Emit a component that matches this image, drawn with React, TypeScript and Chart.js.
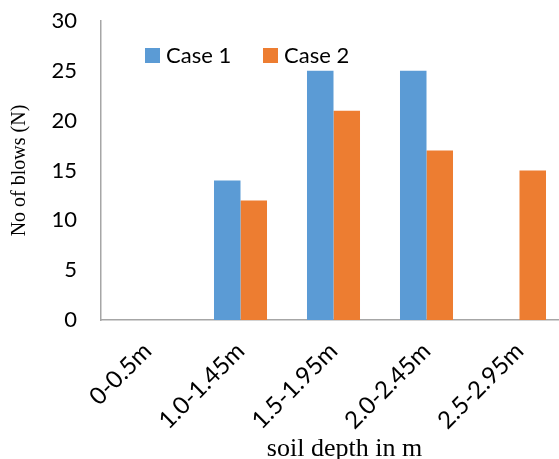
import React, { useEffect, useRef } from "react";
import { Chart, registerables } from "chart.js";

Chart.register(...registerables);

const categories = ["0-0.5m", "1.0-1.45m", "1.5-1.95m", "2.0-2.45m", "2.5-2.95m"];
const case1 = [0, 14, 25, 25, 0];
const case2 = [0, 12, 21, 17, 15];
const seriesNames = ["Case 1", "Case 2"];
const colors = ["#5B9BD5", "#ED7D31"];
const xTitle = "soil depth in m";
const yTitle = "No of blows (N)";

const SANS = "Lato, 'Open Sans', sans-serif";
const SERIF = "'Liberation Serif', 'DejaVu Serif', serif";

const overlayPlugin = {
  id: "overlay",
  afterDraw(chart: any) {
    const ctx = chart.ctx;
    const items = [
      { x: 145, text: seriesNames[0], color: colors[0] },
      { x: 263, text: seriesNames[1], color: colors[1] },
    ];
    ctx.save();
    ctx.font = `22px ${SANS}`;
    ctx.textBaseline = "middle";
    ctx.textAlign = "left";
    for (const it of items) {
      ctx.fillStyle = it.color;
      ctx.fillRect(it.x, 48, 15, 15);
      ctx.fillStyle = "#000";
      ctx.fillText(it.text, it.x + 21, 55.5);
    }
    // x axis title
    const ca = chart.chartArea;
    ctx.font = `26px ${SERIF}`;
    ctx.textAlign = "center";
    ctx.textBaseline = "alphabetic";
    ctx.fillText(xTitle, (ca.left + ca.right) / 2 + 11, 456);
    ctx.restore();
  },
};

export default function App() {
  const ref = useRef<HTMLCanvasElement>(null);
  useEffect(() => {
    if (!ref.current) return;
    const chart = new Chart(ref.current, {
      type: "bar",
      data: {
        labels: categories,
        datasets: [
          { label: seriesNames[0], data: case1, backgroundColor: colors[0], categoryPercentage: 0.57, barPercentage: 1 },
          { label: seriesNames[1], data: case2, backgroundColor: colors[1], categoryPercentage: 0.57, barPercentage: 1 },
        ],
      },
      options: {
        responsive: false,
        animation: false,
        devicePixelRatio: 1,
        layout: { padding: { top: 21, right: 0, left: 0, bottom: 0 } },
        plugins: { legend: { display: false }, tooltip: { enabled: false } },
        scales: {
          x: {
            grid: { display: false, drawTicks: false },
            border: { display: true, color: "#A6A6A6", width: 1.5 },
            ticks: {
              color: "#000",
              font: { family: SANS, size: 24 },
              maxRotation: 45,
              minRotation: 45,
              autoSkip: false,
              padding: 17,
            },
            afterFit(scale: any) {
              scale.height = 139;
            },
          },
          y: {
            min: 0,
            max: 30,
            grid: { display: false, drawTicks: false },
            border: { display: true, color: "#A6A6A6", width: 1.5 },
            ticks: {
              stepSize: 5,
              color: "#000",
              font: { family: SANS, size: 22 },
              padding: 24,
            },
            title: {
              display: true,
              text: yTitle,
              color: "#000",
              font: { family: SERIF, size: 20 },
              padding: { top: 8, bottom: 0 },
            },
            afterFit(scale: any) {
              scale.width = 101;
              scale.paddingTop = 0;
              scale.paddingBottom = 0;
            },
          },
        },
      },
      plugins: [overlayPlugin],
    });
    return () => chart.destroy();
  }, []);
  return (
    <div style={{ position: "fixed", left: 0, top: 0, width: 566, height: 459, background: "#fff", overflow: "hidden" }}>
      <canvas ref={ref} width={566} height={459} style={{ width: 566, height: 459, display: "block" }} />
    </div>
  );
}
